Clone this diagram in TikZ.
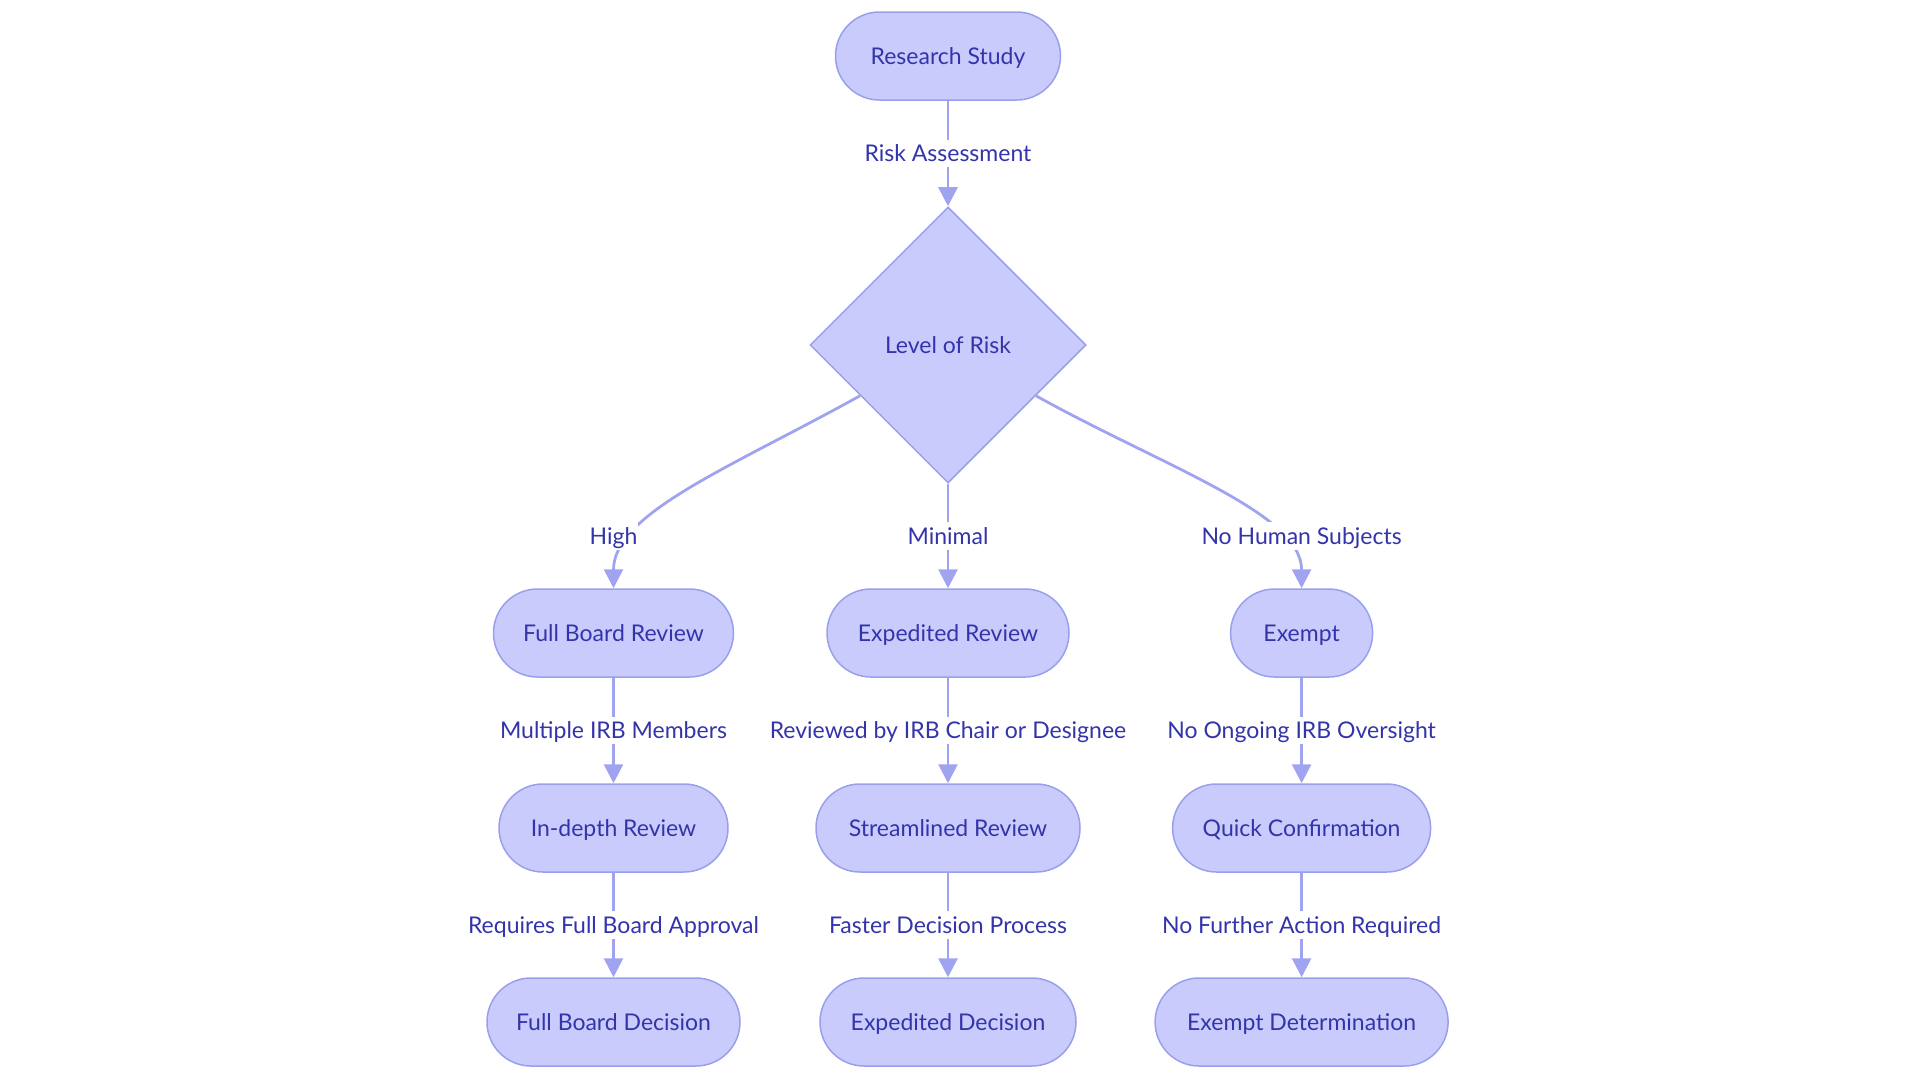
\documentclass[tikz,border=0pt]{standalone}
\usepackage{fontspec}
\setmainfont{Lato}
\usetikzlibrary{shapes.geometric,arrows.meta}
\definecolor{nodefill}{HTML}{C9CBFD}
\definecolor{nodeline}{HTML}{9A9FEC}
\definecolor{edgeline}{HTML}{A0A4F0}
\definecolor{txtblue}{HTML}{3434AA}
\begin{document}
\begin{tikzpicture}[x=1pt,y=-1pt,
  every node/.style={font=\fontsize{23}{27}\selectfont,text=txtblue,text height=21pt,text depth=4.5pt},
  box/.style={draw=nodeline,line width=1.5pt,fill=nodefill,rounded corners=44pt,minimum height=88pt,inner sep=0pt},
  dec/.style={draw=nodeline,line width=1.5pt,fill=nodefill,diamond,minimum width=276pt,minimum height=276pt,inner sep=0pt},
  lbl/.style={fill=white,inner sep=1pt},
  edge/.style={draw=edgeline,line width=2.8pt,-{Triangle[width=19pt,length=19pt]}}]
\useasboundingbox (0,0) rectangle (1920,1080);
% top
\node[box,minimum width=225pt] (rs) at (948,56) {Research Study};
\node[dec] (risk) at (948,345) {Level of Risk};
\draw[edge] (rs) -- node[lbl] (lRisk) {Risk Assessment} (risk);
% row 2
\node[box,minimum width=240pt] (fbr) at (613.5,633) {Full Board Review};
\node[box,minimum width=242pt] (exr) at (948,633) {Expedited Review};
\node[box,minimum width=142pt] (exm) at (1301.6,633) {Exempt};
\draw[edge] (risk.210) .. controls +(-130,72) and +(0,-75) .. (fbr.north);
\node[lbl] (lHigh) at (613.5,536) {High};
\draw[edge] (risk) -- node[lbl] (lMin) {Minimal} (exr);
\draw[edge] (risk.330) .. controls +(130,72) and +(0,-75) .. (exm.north);
\node[lbl] (lNone) at (1301.6,536) {No Human Subjects};
% row 3
\node[box,minimum width=229pt] (idr) at (613.5,828) {In-depth Review};
\node[box,minimum width=264pt] (slr) at (948,828) {Streamlined Review};
\node[box,minimum width=258pt] (qcf) at (1301.6,828) {Quick Confirmation};
\draw[edge] (fbr) -- node[lbl] (lMult) {Multiple IRB Members} (idr);
\draw[edge] (exr) -- node[lbl] (lChair) {Reviewed by IRB Chair or Designee} (slr);
\draw[edge] (exm) -- node[lbl] (lNoOver) {No Ongoing IRB Oversight} (qcf);
% row 4
\node[box,minimum width=253pt] (fbd) at (613.5,1022) {Full Board Decision};
\node[box,minimum width=256pt] (exd) at (948,1022) {Expedited Decision};
\node[box,minimum width=293pt] (exdet) at (1301.6,1022) {Exempt Determination};
\draw[edge] (idr) -- node[lbl] (lReq) {Requires Full Board Approval} (fbd);
\draw[edge] (slr) -- node[lbl] (lFast) {Faster Decision Process} (exd);
\draw[edge] (qcf) -- node[lbl] (lNoFurth) {No Further Action Required} (exdet);
\end{tikzpicture}
\end{document}
